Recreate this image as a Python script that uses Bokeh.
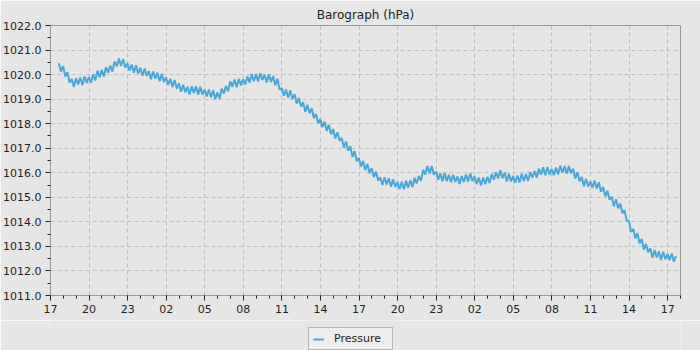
from bokeh.plotting import figure
from bokeh.layouts import column
from bokeh.models import FixedTicker, Legend, LegendItem, ColumnDataSource
from bokeh.embed import file_html
from bokeh.resources import INLINE

# ---- data ----
start_hour_offset = 0.65        # first reading ~17:39 (hours after 17:00)
step_hours = 1 / 6              # one reading every 10 minutes
pressure = [
    1020.46, 1020.13, 1020.34, 1019.92, 1020.10, 1019.68,
    1019.82, 1019.50, 1019.85, 1019.60, 1019.88, 1019.57,
    1019.93, 1019.66, 1019.90, 1019.67, 1020.01, 1019.76,
    1020.16, 1019.88, 1020.19, 1019.92, 1020.30, 1020.08,
    1020.37, 1020.12, 1020.54, 1020.33, 1020.65, 1020.35,
    1020.63, 1020.28, 1020.46, 1020.16, 1020.41, 1020.08,
    1020.38, 1020.04, 1020.28, 1019.95, 1020.25, 1019.95,
    1020.14, 1019.81, 1020.13, 1019.83, 1020.08, 1019.73,
    1020.03, 1019.70, 1019.88, 1019.58, 1019.83, 1019.49,
    1019.78, 1019.43, 1019.65, 1019.30, 1019.58, 1019.28,
    1019.50, 1019.19, 1019.53, 1019.25, 1019.52, 1019.18,
    1019.50, 1019.18, 1019.39, 1019.11, 1019.39, 1019.08,
    1019.36, 1019.00, 1019.27, 1019.02, 1019.43, 1019.23,
    1019.54, 1019.32, 1019.73, 1019.50, 1019.80, 1019.48,
    1019.83, 1019.56, 1019.82, 1019.60, 1019.93, 1019.67,
    1020.02, 1019.73, 1020.02, 1019.72, 1020.05, 1019.78,
    1020.00, 1019.68, 1020.01, 1019.70, 1019.94, 1019.57,
    1019.83, 1019.38, 1019.45, 1019.14, 1019.39, 1019.06,
    1019.36, 1019.00, 1019.20, 1018.82, 1019.05, 1018.70,
    1018.87, 1018.49, 1018.77, 1018.42, 1018.63, 1018.23,
    1018.40, 1018.03, 1018.18, 1017.86, 1018.08, 1017.71,
    1017.96, 1017.58, 1017.78, 1017.40, 1017.65, 1017.30,
    1017.42, 1017.02, 1017.27, 1016.90, 1017.08, 1016.65,
    1016.88, 1016.48, 1016.60, 1016.26, 1016.48, 1016.11,
    1016.36, 1015.98, 1016.18, 1015.82, 1016.05, 1015.68,
    1015.82, 1015.50, 1015.82, 1015.52, 1015.78, 1015.43,
    1015.74, 1015.42, 1015.62, 1015.34, 1015.63, 1015.33,
    1015.68, 1015.39, 1015.69, 1015.42, 1015.79, 1015.56,
    1015.87, 1015.67, 1016.12, 1015.93, 1016.28, 1015.97,
    1016.28, 1015.93, 1016.05, 1015.72, 1015.98, 1015.66,
    1015.98, 1015.66, 1015.92, 1015.61, 1015.92, 1015.63,
    1015.85, 1015.54, 1015.87, 1015.62, 1015.93, 1015.63,
    1015.98, 1015.66, 1015.85, 1015.54, 1015.80, 1015.48,
    1015.81, 1015.53, 1015.84, 1015.58, 1015.95, 1015.72,
    1016.02, 1015.77, 1016.10, 1015.78, 1016.01, 1015.65,
    1015.96, 1015.65, 1015.86, 1015.59, 1015.89, 1015.60,
    1015.96, 1015.66, 1015.95, 1015.67, 1016.03, 1015.80,
    1016.07, 1015.80, 1016.17, 1015.92, 1016.22, 1015.90,
    1016.23, 1015.93, 1016.15, 1015.90, 1016.21, 1015.93,
    1016.29, 1016.00, 1016.27, 1015.96, 1016.27, 1015.98,
    1016.17, 1015.77, 1016.02, 1015.65, 1015.83, 1015.45,
    1015.76, 1015.44, 1015.65, 1015.39, 1015.68, 1015.36,
    1015.61, 1015.23, 1015.42, 1015.04, 1015.27, 1014.90,
    1015.02, 1014.64, 1014.92, 1014.55, 1014.75, 1014.35,
    1014.48, 1014.03, 1014.05, 1013.59, 1013.71, 1013.33,
    1013.54, 1013.13, 1013.30, 1012.87, 1013.10, 1012.76,
    1012.92, 1012.54, 1012.85, 1012.55, 1012.80, 1012.45,
    1012.78, 1012.48, 1012.70, 1012.44, 1012.71, 1012.38,
    1012.60,
]
hours = [start_hour_offset + i * step_hours for i in range(len(pressure))]

series_name = "Pressure"
tick_hours = list(range(0, 49, 3))
tick_labels = ["17", "20", "23", "02", "05", "08", "11", "14", "17",
               "20", "23", "02", "05", "08", "11", "14", "17"]
y_ticks = list(range(1011, 1023))

BG = "#e6e6e6"
FONT = "DejaVu Sans"
LINE = "#4aa8d8"

p = figure(frame_width=630, frame_height=270,
           x_range=(0, 49), y_range=(1011, 1022),
           output_backend="svg", toolbar_location=None,
           min_border_left=50, min_border_right=20,
           min_border_top=25, min_border_bottom=25,
           background_fill_color=BG, border_fill_color=BG,
           title="Barograph (hPa)")

p.title.align = "center"
p.title.text_font = FONT
p.title.text_font_size = "12px"
p.title.text_font_style = "normal"
p.title.text_color = "#222222"
p.title.standoff = 8

p.outline_line_color = "#999999"
p.outline_line_width = 1

for ax in (p.xaxis[0], p.yaxis[0]):
    ax.axis_line_color = "#999999"
    ax.major_tick_line_color = "#222222"
    ax.minor_tick_line_color = "#222222"
    ax.major_tick_out = 5
    ax.major_tick_in = 0
    ax.minor_tick_out = 3
    ax.minor_tick_in = 0
    ax.major_label_text_font = FONT
    ax.major_label_text_font_size = "11px"
    ax.major_label_text_color = "#222222"
    ax.major_label_standoff = 4

p.xaxis.ticker = FixedTicker(ticks=tick_hours, minor_ticks=list(range(0, 50)))
p.xaxis.major_label_overrides = {h: lab for h, lab in zip(tick_hours, tick_labels)}
p.yaxis.ticker = FixedTicker(ticks=y_ticks,
                             minor_ticks=[v + 0.5 for v in y_ticks[:-1]])
p.yaxis.major_label_overrides = {v: f"{v:.1f}" for v in y_ticks}

p.grid.grid_line_color = "#c0c0c0"
p.grid.grid_line_dash = "4 3"
p.grid.grid_line_width = 1

src = ColumnDataSource(dict(x=hours, y=pressure))
r = p.line("x", "y", source=src, line_color=LINE, line_width=2)

# legend strip below the chart (same series, its data lies outside this strip's ranges)
lf = figure(width=700, height=30, x_range=(0, 1), y_range=(0, 1),
            output_backend="svg", toolbar_location=None,
            min_border=0, background_fill_color=BG, border_fill_color=BG,
            outline_line_color=None, x_axis_type=None, y_axis_type=None)
lf.grid.visible = False
lr = lf.line("x", "y", source=src, line_color=LINE, line_width=2)
legend = Legend(items=[LegendItem(label=series_name, renderers=[lr])],
                location=(258, 0), orientation="horizontal",
                label_text_font=FONT, label_text_font_size="11px",
                label_text_color="#222222",
                border_line_color="#808080", background_fill_color="#eeeeee",
                background_fill_alpha=1.0,
                glyph_width=11, glyph_height=12, label_standoff=10,
                padding=4, margin=0, spacing=0, label_height=12,
                label_width=54)
lf.add_layout(legend)

layout = column(p, lf, spacing=0)
open("out.html", "w").write(file_html(layout, INLINE))
